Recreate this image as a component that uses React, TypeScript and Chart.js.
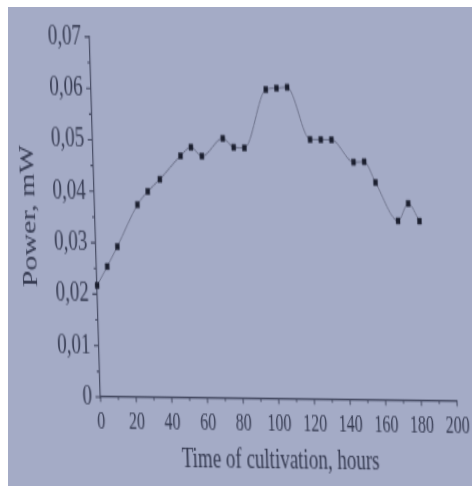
import { useEffect, useRef } from 'react';
import { Chart, registerables } from 'chart.js';

Chart.register(...registerables);

// Measured power of the culture over the cultivation period
const hours = [0, 6, 12, 24, 30, 37, 49, 55, 61, 73, 79, 85, 98, 104, 110, 122, 128, 134, 146, 152, 158, 170, 176, 182];
const power = [
  0.0217, 0.0254, 0.0293, 0.0375, 0.0401, 0.0425, 0.0471, 0.0488, 0.0471, 0.0506, 0.0489, 0.0488,
  0.0602, 0.0605, 0.0607, 0.0506, 0.0506, 0.0506, 0.0463, 0.0464, 0.0424, 0.035, 0.0384, 0.035,
];

// Axis ticks
const xTicks = [0, 20, 40, 60, 80, 100, 120, 140, 160, 180, 200];
const yTicks = [0, 0.01, 0.02, 0.03, 0.04, 0.05, 0.06, 0.07];
const yTickLabels = ['0', '0,01', '0,02', '0,03', '0,04', '0,05', '0,06', '0,07'];

const xTitle = 'Time of cultivation, hours';
const yTitle = 'Power, mW';

const FONT = "'Liberation Serif', 'Times New Roman', serif";
const PAPER = 'rgb(164, 171, 198)';
const INK = '#363b52';
const AXIS = '#464b63';
const MARK = '#1b1f2f';
const CURVE = '#6c7189';

// Major ticks on every labelled value, short minor ticks halfway between them
const axisTicks = {
  id: 'axisTicks',
  afterDraw(chart: any) {
    const { ctx } = chart;
    const x = chart.scales.x;
    const y = chart.scales.y;
    ctx.save();
    ctx.strokeStyle = AXIS;
    ctx.lineWidth = 1.1;
    ctx.beginPath();
    const xs: number[] = x.ticks.map((t: any) => t.value);
    xs.forEach((v, i) => {
      const px = x.getPixelForValue(v);
      ctx.moveTo(px, x.top);
      ctx.lineTo(px, x.top + 3.2);
      if (i < xs.length - 1) {
        const pm = x.getPixelForValue((v + xs[i + 1]) / 2);
        ctx.moveTo(pm, x.top);
        ctx.lineTo(pm, x.top + 1.8);
      }
    });
    const ys: number[] = y.ticks.map((t: any) => t.value);
    ys.forEach((v, i) => {
      const py = y.getPixelForValue(v);
      ctx.moveTo(y.right, py);
      ctx.lineTo(y.right - 5, py);
      if (i < ys.length - 1) {
        const pm = y.getPixelForValue((v + ys[i + 1]) / 2);
        ctx.moveTo(y.right, pm);
        ctx.lineTo(y.right - 3, pm);
      }
    });
    ctx.stroke();
    ctx.restore();
  },
};

export default function App() {
  const ref = useRef<HTMLCanvasElement>(null);

  useEffect(() => {
    if (!ref.current) return;
    Chart.defaults.font.family = FONT;
    const chart = new Chart(ref.current, {
      type: 'line',
      data: {
        datasets: [
          {
            data: hours.map((h, i) => ({ x: h, y: power[i] })),
            borderColor: CURVE,
            borderWidth: 1,
            cubicInterpolationMode: 'monotone',
            pointStyle: 'rect',
            pointRadius: 2.8,
            pointBorderWidth: 0.4,
            pointBackgroundColor: MARK,
            pointBorderColor: MARK,
            clip: false,
          } as any,
        ],
      },
      options: {
        responsive: false,
        animation: false,
        devicePixelRatio: 1,
        layout: { padding: { left: 0, right: 23.5, top: 18.7, bottom: 0 } },
        plugins: { legend: { display: false }, tooltip: { enabled: false } },
        scales: {
          x: {
            type: 'linear',
            min: 0,
            max: 200,
            afterBuildTicks: (s: any) => {
              s.ticks = xTicks.map((v) => ({ value: v }));
            },
            afterFit: (s: any) => {
              s.height = 60;
            },
            grid: { display: false, drawTicks: false },
            border: { display: true, color: AXIS, width: 1.2 },
            ticks: {
              color: INK,
              font: { size: 16 },
              padding: 6.7,
              maxRotation: 0,
              autoSkip: false,
              callback: (v: any) => String(v),
            },
            title: {
              display: true,
              text: xTitle,
              color: INK,
              font: { size: 19 },
              padding: { top: 0, bottom: 7.8 },
            },
          },
          y: {
            type: 'linear',
            min: 0,
            max: 0.07,
            afterBuildTicks: (s: any) => {
              s.ticks = yTicks.map((v) => ({ value: v }));
            },
            afterFit: (s: any) => {
              s.width = 84;
            },
            grid: { display: false, drawTicks: false },
            border: { display: true, color: AXIS, width: 1.2 },
            ticks: {
              color: INK,
              font: { size: 19 },
              padding: 8.5,
              autoSkip: false,
              callback: (v: any) => {
                const i = yTicks.findIndex((t) => Math.abs(t - v) < 1e-9);
                return i >= 0 ? yTickLabels[i] : '';
              },
            },
            title: {
              display: true,
              text: yTitle,
              color: INK,
              font: { size: 20 },
              padding: { top: 6.8, bottom: 0 },
            },
          },
        },
      },
      plugins: [axisTicks],
    });
    return () => chart.destroy();
  }, []);

  return (
    <div
      style={{
        position: 'fixed',
        left: 8,
        top: 7,
        right: 0,
        bottom: 0,
        background: PAPER,
        overflow: 'hidden',
      }}
    >
      <canvas
        ref={ref}
        width={464}
        height={320}
        style={{
          display: 'block',
          width: '464px',
          height: '320px',
          transformOrigin: '0 0',
          transform: 'matrix(1, 0.0126, 0.0456, 1.5, -3.36, -1)',
        }}
      />
    </div>
  );
}
